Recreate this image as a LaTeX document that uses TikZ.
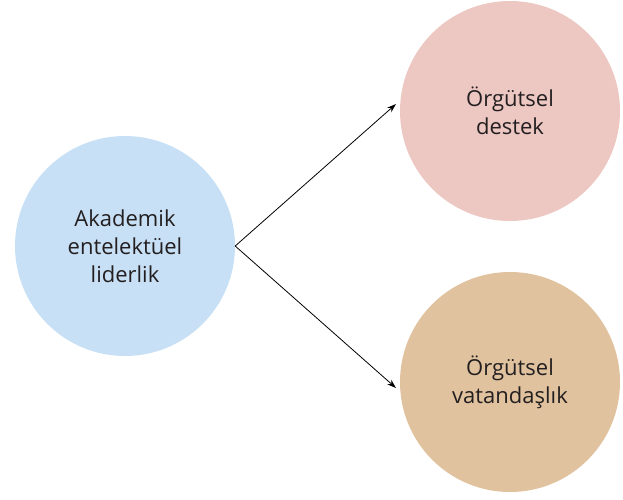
\documentclass[tikz,border=0pt]{standalone}
\usepackage{fontspec}
\setmainfont{Open Sans}
\usetikzlibrary{arrows.meta}
\definecolor{cblue}{RGB}{200,224,245}
\definecolor{cpink}{RGB}{237,199,194}
\definecolor{ctan}{RGB}{224,194,159}
\definecolor{txt}{RGB}{35,31,32}
\begin{document}
\begin{tikzpicture}[x=1pt,y=-1pt,
  bubble/.style={circle,minimum size=220pt,inner sep=0pt,align=center,text=txt,
    font=\fontsize{22}{28}\selectfont},
  link/.style={line width=0.8pt,-{Stealth[length=9pt,width=6pt]}}]
\useasboundingbox (0,0) rectangle (623,499);
\node[bubble,fill=cblue] (L) at (125,246) {Akademik\\entelektüel\\liderlik};
\node[bubble,fill=cpink] (T) at (510,111) {Örgütsel\\destek};
\node[bubble,fill=ctan] (B) at (510,382) {Örgütsel\\vatandaşlık};
\coordinate (tt) at (396,104);
\coordinate (bt) at (396,388);
\draw[link] (L.east) -- (tt);
\draw[link] (L.east) -- (bt);
\end{tikzpicture}
\end{document}
